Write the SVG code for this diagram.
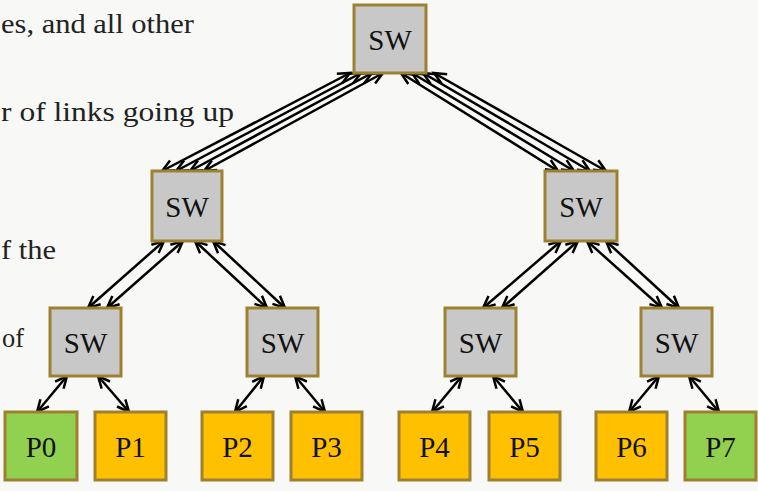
<svg xmlns="http://www.w3.org/2000/svg" width="758" height="491" viewBox="0 0 758 491">
<defs>
<marker id="ah" markerUnits="userSpaceOnUse" markerWidth="16" markerHeight="16" refX="13" refY="7" orient="auto-start-reverse" overflow="visible">
<path d="M1,1.5 L13,7 L1,12.5" fill="none" stroke="#000" stroke-width="2.5" stroke-linejoin="miter"/>
</marker>
</defs>
<style>
.bg{fill:#f8f8f7}
.sw{fill:#c8c8c8;stroke:#9e8130;stroke-width:3}
.pg{fill:#92d050;stroke:#9e8130;stroke-width:3}
.po{fill:#ffc000;stroke:#9e8130;stroke-width:3}
text{font-family:'Liberation Serif',Tinos,'Times New Roman',Times,'Nimbus Roman','FreeSerif','DejaVu Serif',serif}
.lbl{font-size:29px;fill:#111;text-anchor:middle}
.body{font-size:27px;fill:#222;text-anchor:end}
.cn line{stroke:#000;stroke-width:2.5;marker-start:url(#ah);marker-end:url(#ah)}
</style>
<rect class="bg" x="0" y="0" width="758" height="491"/>
<g id="bodytext">
<text class="body" x="194" y="33" textLength="193" lengthAdjust="spacingAndGlyphs">es, and all other</text>
<text class="body" x="234" y="121" textLength="233" lengthAdjust="spacingAndGlyphs">r of links going up</text>
<text class="body" x="56" y="259" textLength="55" lengthAdjust="spacingAndGlyphs">f the</text>
<text class="body" x="24" y="347" textLength="22" lengthAdjust="spacingAndGlyphs">of</text>
</g>
<g id="connectors" class="cn">
<line x1="350" y1="73" x2="162" y2="171"/>
<line x1="361" y1="73" x2="176" y2="171"/>
<line x1="372" y1="73" x2="190" y2="171"/>
<line x1="383" y1="73" x2="204" y2="171"/>
<line x1="401" y1="73" x2="558" y2="171"/>
<line x1="412" y1="73" x2="574" y2="171"/>
<line x1="423" y1="73" x2="590" y2="171"/>
<line x1="434" y1="73" x2="606" y2="171"/>
<line x1="164" y1="241" x2="88" y2="308"/>
<line x1="183" y1="241" x2="107" y2="308"/>
<line x1="195" y1="241" x2="267" y2="308"/>
<line x1="213" y1="241" x2="285" y2="308"/>
<line x1="561" y1="241" x2="483" y2="308"/>
<line x1="578" y1="241" x2="502" y2="308"/>
<line x1="587" y1="241" x2="662" y2="308"/>
<line x1="606" y1="241" x2="679" y2="308"/>
<line x1="67" y1="376" x2="37" y2="412"/>
<line x1="98" y1="376" x2="129" y2="412"/>
<line x1="264" y1="376" x2="235" y2="412"/>
<line x1="295" y1="376" x2="325" y2="412"/>
<line x1="462" y1="376" x2="432" y2="412"/>
<line x1="493" y1="376" x2="523" y2="412"/>
<line x1="659" y1="376" x2="629" y2="412"/>
<line x1="689" y1="376" x2="719" y2="412"/>
</g>
<g id="sw_top"><rect class="sw" x="354" y="5" width="72" height="68"/><text class="lbl" x="390" y="50">SW</text></g>
<g id="sw_mid_l"><rect class="sw" x="152" y="171" width="70" height="70"/><text class="lbl" x="187" y="217">SW</text></g>
<g id="sw_mid_r"><rect class="sw" x="545" y="171" width="72" height="70"/><text class="lbl" x="581" y="217">SW</text></g>
<g id="sw_l1"><rect class="sw" x="50" y="308" width="71" height="68"/><text class="lbl" x="85.5" y="353">SW</text></g>
<g id="sw_l2"><rect class="sw" x="247" y="308" width="71" height="68"/><text class="lbl" x="282.5" y="353">SW</text></g>
<g id="sw_l3"><rect class="sw" x="445" y="308" width="71" height="68"/><text class="lbl" x="480.5" y="353">SW</text></g>
<g id="sw_l4"><rect class="sw" x="641" y="308" width="71" height="68"/><text class="lbl" x="676.5" y="353">SW</text></g>
<g id="p0"><rect class="pg" x="5" y="412" width="72" height="68"/><text class="lbl" x="41" y="457">P0</text></g>
<g id="p1"><rect class="po" x="95" y="412" width="71" height="68"/><text class="lbl" x="130.5" y="457">P1</text></g>
<g id="p2"><rect class="po" x="202" y="412" width="71" height="68"/><text class="lbl" x="237.5" y="457">P2</text></g>
<g id="p3"><rect class="po" x="291" y="412" width="71" height="68"/><text class="lbl" x="326.5" y="457">P3</text></g>
<g id="p4"><rect class="po" x="399" y="412" width="71" height="68"/><text class="lbl" x="434.5" y="457">P4</text></g>
<g id="p5"><rect class="po" x="489" y="412" width="71" height="68"/><text class="lbl" x="524.5" y="457">P5</text></g>
<g id="p6"><rect class="po" x="596" y="412" width="71" height="68"/><text class="lbl" x="631.5" y="457">P6</text></g>
<g id="p7"><rect class="pg" x="685" y="412" width="71" height="68"/><text class="lbl" x="720.5" y="457">P7</text></g>
</svg>
